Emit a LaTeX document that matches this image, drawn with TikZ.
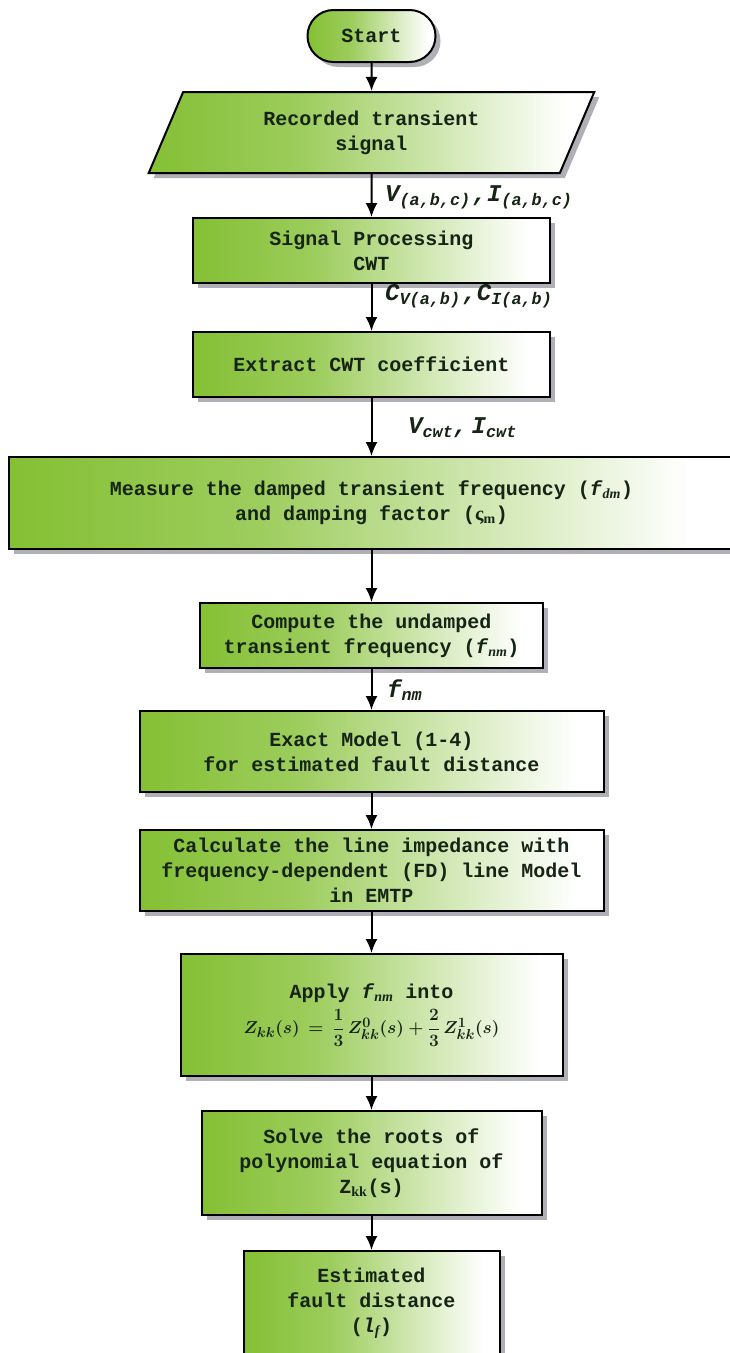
\documentclass[tikz,border=0pt]{standalone}
\usepackage{amsmath}
\usepackage{fontspec}
\usetikzlibrary{arrows.meta, shapes.geometric}
\newfontfamily\boxfont{Liberation Mono}
\newfontfamily\subfont{Liberation Serif}
\definecolor{boxGreen}{RGB}{132,192,52}
\definecolor{textDark}{RGB}{22,36,22}
\definecolor{shadowGray}{RGB}{175,175,182}
\pgfdeclarehorizontalshading{greenFade}{100bp}{color(0bp)=(boxGreen); color(25bp)=(boxGreen); color(42bp)=(boxGreen!80!white); color(72bp)=(white); color(100bp)=(white)}
\newcommand{\fsub}[1]{\textit{f}\textsubscript{\subfont\itshape #1}}
\newcommand{\lblsub}[2]{\textit{#1}\textsubscript{\itshape #2}}

\begin{document}
\begin{tikzpicture}[x=1pt, y=-1pt,
    every node/.style={font={\boxfont\bfseries\fontsize{20}{25}\selectfont}, text=textDark},
    boxshadow/.style={preaction={draw=none, fill=shadowGray, transform canvas={xshift=5pt, yshift=-5pt}}},
    procbox/.style={rectangle, draw=black, line width=2pt, shading=greenFade, align=center, inner sep=2pt, boxshadow},
    termbox/.style={procbox, rounded corners=25.9pt, minimum width=128pt, minimum height=52pt},
    iobox/.style={trapezium, trapezium left angle=68, trapezium right angle=112, trapezium stretches=true,
        draw=black, line width=2pt, shading=greenFade, align=center, boxshadow},
    flowlbl/.style={font={\boxfont\bfseries\itshape\fontsize{24}{28}\selectfont}, inner sep=0pt, anchor=west},
    flow/.style={-{Latex[length=14pt, width=12pt]}, line width=2pt, black}]
    % Frame
    \fill[white] (0,0) rectangle (729,1353);
    \useasboundingbox (0,0) rectangle (729,1353);

    % Boxes
    \node[termbox] (start) at (371.5,36) {Start};
    \node[iobox, minimum width=447pt, minimum height=81pt] (rec) at (371.5,132.5) {Recorded transient\\signal};
    \node[procbox, minimum width=357pt, minimum height=65pt] (sig) at (371.5,250.5) {Signal Processing\\CWT};
    \node[procbox, minimum width=357pt, minimum height=65pt] (ext) at (371.5,364.5) {Extract CWT coefficient};
    \node[procbox, minimum width=726pt, minimum height=92pt] (meas) at (371.5,503)
        {Measure the damped transient frequency (\fsub{dm})\\and damping factor ({\subfont ς}\textsubscript{\subfont m})};
    \node[procbox, minimum width=343pt, minimum height=65pt] (comp) at (371.5,635.5) {Compute the undamped\\transient frequency (\fsub{nm})};
    \node[procbox, minimum width=464pt, minimum height=81pt] (exact) at (371.5,751.5) {Exact Model (1-4)\\for estimated fault distance};
    \node[procbox, minimum width=464pt, minimum height=81pt] (calc) at (371.5,870.5)
        {Calculate the line impedance with\\frequency-dependent (FD) line Model\\in EMTP};
    \node[procbox, minimum width=382pt, minimum height=122pt] (apply) at (371.5,1015)
        {Apply \fsub{nm} into\\[6pt] {\fontsize{19}{22}\selectfont\boldmath $Z_{kk}(s)\,=\,\dfrac{1}{3}\,Z^{0}_{kk}(s)+\dfrac{2}{3}\,Z^{1}_{kk}(s)$}};
    \node[procbox, minimum width=340pt, minimum height=104pt] (solve) at (371.5,1163)
        {Solve the roots of\\polynomial equation of\\Z\textsubscript{\subfont kk}(s)};
    \node[procbox, minimum width=256pt, minimum height=104pt] (est) at (371.5,1303)
        {Estimated\\fault distance\\(\textit{l}\textsubscript{\subfont\itshape f})};

    % Arrows
    \draw[flow] (start) -- (rec);
    \draw[flow] (rec) -- (sig);
    \draw[flow] (sig) -- (ext);
    \draw[flow] (ext) -- (meas);
    \draw[flow] (meas) -- (comp);
    \draw[flow] (comp) -- (exact);
    \draw[flow] (exact) -- (calc);
    \draw[flow] (calc) -- (apply);
    \draw[flow] (apply) -- (solve);
    \draw[flow] (solve) -- (est);

    % Signal labels
    \node[flowlbl] (vlbl) at (385,197) {\lblsub{V}{(a,b,c)}\kern2pt,\lblsub{I}{(a,b,c)}};
    \node[flowlbl] (clbl) at (385,296) {\lblsub{C}{V(a,b)}\kern2pt,\lblsub{C}{I(a,b)}};
    \node[flowlbl] (cwtlbl) at (408,428) {\lblsub{V}{cwt},\,\lblsub{I}{cwt}};
    \node[flowlbl] (flbl) at (387,690) {\lblsub{f}{nm}};
\end{tikzpicture}
\end{document}
